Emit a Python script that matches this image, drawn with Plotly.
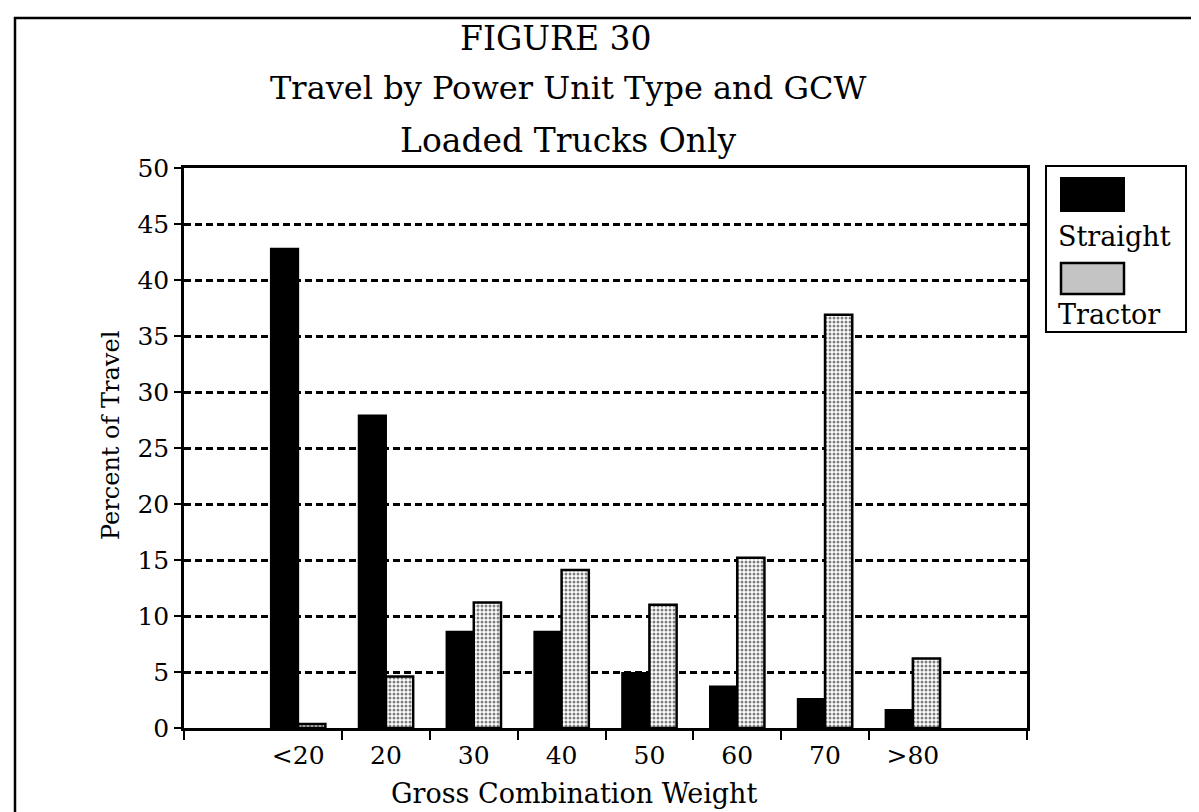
import plotly.graph_objects as go

# data
categories = ["<20", "20", "30", "40", "50", "60", "70", ">80"]
straight = [42.8, 27.9, 8.6, 8.6, 4.9, 3.7, 2.6, 1.6]
tractor = [0.35, 4.6, 11.2, 14.1, 11.0, 15.2, 36.9, 6.2]
y_ticks = [0, 5, 10, 15, 20, 25, 30, 35, 40, 45, 50]

FONT = "DejaVu Serif"
W, H = 1199, 812
L, R, T, B = 176, 180, 160, 92
PW, PH = W - L - R, H - T - B


def px(x):
    return (x - L) / PW


def py(y):
    return 1 - (y - T) / PH


idx = list(range(len(categories)))
x_lo, x_hi = -1.3, len(categories) - 1 + 1.3

fig = go.Figure()

fig.add_trace(go.Bar(
    x=idx, y=straight, name="Straight",
    marker=dict(color="black", line=dict(color="black", width=2)),
))
fig.add_trace(go.Bar(
    x=idx, y=tractor, name="Tractor",
    marker=dict(
        color="white",
        line=dict(color="black", width=2.5),
        pattern=dict(shape=".", size=4, solidity=0.45, fgcolor="black", bgcolor="white"),
    ),
))
# invisible trace just to carry the category labels on a second x axis
fig.add_trace(go.Scatter(x=idx, y=[0] * len(idx), xaxis="x2", mode="markers",
                         marker=dict(opacity=0), showlegend=False, hoverinfo="skip"))

boundaries = [x_lo] + [i + 0.5 for i in idx[:-1]] + [x_hi]

fig.update_layout(
    width=W, height=H,
    margin=dict(l=L, r=R, t=T, b=B),
    paper_bgcolor="white", plot_bgcolor="white",
    font=dict(family=FONT, color="black", size=25),
    barmode="group", bargap=0.38, bargroupgap=0,
    showlegend=False,
    xaxis=dict(
        range=[x_lo, x_hi], tickvals=boundaries, ticktext=[""] * len(boundaries),
        ticks="outside", ticklen=9, tickwidth=2, tickcolor="black",
        showline=True, linecolor="black", linewidth=2.5, mirror=True,
        showgrid=False, zeroline=False,
    ),
    xaxis2=dict(
        range=[x_lo, x_hi], overlaying="x", side="bottom", anchor="y",
        tickvals=idx, ticktext=categories, ticks="", ticklabelstandoff=10,
        tickfont=dict(size=25), showgrid=False, zeroline=False, showline=False,
    ),
    yaxis=dict(
        range=[0, 50], tickvals=y_ticks,
        ticks="outside", ticklen=7, tickwidth=2, tickcolor="black",
        showline=True, linecolor="black", linewidth=2.5, mirror=True,
        showgrid=True, gridcolor="black", gridwidth=3, griddash="7px,4px",
        zeroline=False, tickfont=dict(size=25),
    ),
)

# titles
for text, x, y, size in [("FIGURE 30", 548, 31, 33),
                         ("Travel by Power Unit Type and GCW", 560, 80, 32),
                         ("Loaded Trucks Only", 560, 133, 33)]:
    fig.add_annotation(text=text, xref="paper", yref="paper", x=px(x), y=py(y),
                       showarrow=False, font=dict(size=size), xanchor="center", yanchor="middle")

# axis titles
fig.add_annotation(text="Gross Combination Weight", xref="paper", yref="paper",
                   x=px(566), y=py(785), showarrow=False, font=dict(size=27),
                   xanchor="center", yanchor="middle")
fig.add_annotation(text="Percent of Travel", xref="paper", yref="paper",
                   x=px(103), y=py(428), showarrow=False, font=dict(size=24),
                   textangle=-90, xanchor="center", yanchor="middle")

# outer frame
fig.add_shape(type="rect", xref="paper", yref="paper",
              x0=px(7), x1=px(1192), y0=py(840), y1=py(10),
              line=dict(color="black", width=2.5), fillcolor="rgba(0,0,0,0)", layer="below")

# legend box
fig.add_shape(type="rect", xref="paper", yref="paper",
              x0=px(1038), x1=px(1178), y0=py(324), y1=py(158),
              line=dict(color="black", width=2), fillcolor="white")
fig.add_shape(type="rect", xref="paper", yref="paper",
              x0=px(1053), x1=px(1116), y0=py(203), y1=py(170),
              line=dict(color="black", width=2), fillcolor="black")
fig.add_shape(type="rect", xref="paper", yref="paper",
              x0=px(1053), x1=px(1116), y0=py(286), y1=py(255),
              line=dict(color="black", width=2.5), fillcolor="#c4c4c4")
fig.add_annotation(text="Straight", xref="paper", yref="paper", x=px(1048), y=py(228),
                   showarrow=False, font=dict(size=27), xanchor="left", yanchor="middle")
fig.add_annotation(text="Tractor", xref="paper", yref="paper", x=px(1048), y=py(306),
                   showarrow=False, font=dict(size=27), xanchor="left", yanchor="middle")

fig.write_html("out.html")
